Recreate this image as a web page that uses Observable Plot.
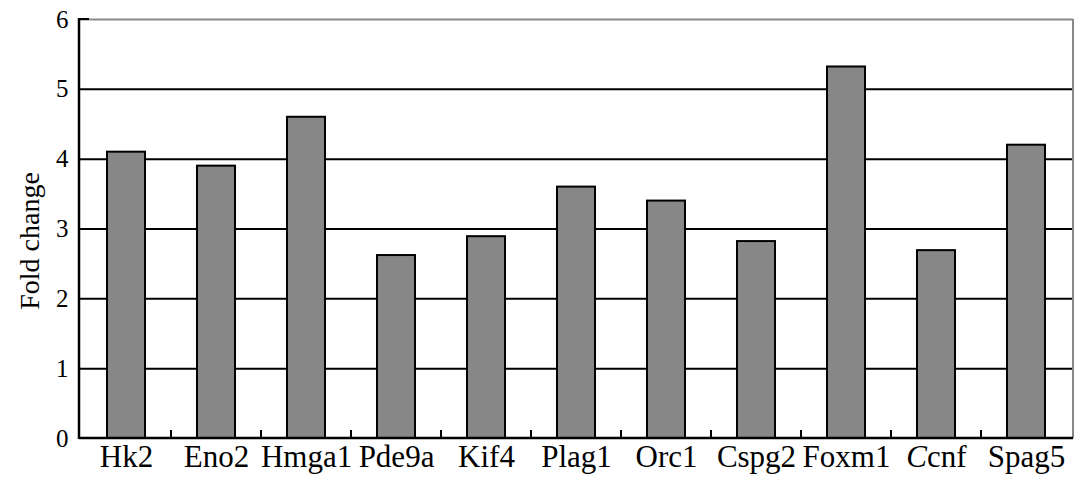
<!DOCTYPE html>
<html><head><meta charset="utf-8">
<script src="https://cdn.jsdelivr.net/npm/d3@7"></script>
<script src="https://cdn.jsdelivr.net/npm/@observablehq/plot@0.6"></script>
<style>
body{margin:0;background:#fff;}
</style></head><body><div id="chart"></div>
<script>
const genes = ["Hk2","Eno2","Hmga1","Pde9a","Kif4","Plag1","Orc1","Cspg2","Foxm1","Ccnf","Spag5"];
const foldChange = [4.10,3.90,4.60,2.62,2.89,3.60,3.40,2.82,5.32,2.69,4.20];
const yTicks = [0,1,2,3,4,5,6];
const gridTicks = [1,2,3,4,5];
const yTitle = "Fold change";
const data = genes.map((g,i)=>({gene:g, value:foldChange[i]}));

const W=1087,H=490, mL=79, mR=14, mT=19, mB=52;
const serif = "Liberation Serif, Times New Roman, serif";
const chart = Plot.plot({
  width:W, height:H, marginLeft:mL, marginRight:mR, marginTop:mT, marginBottom:mB,
  style:{background:"#fff", color:"#000", fontFamily:serif, fontSize:"25px"},
  x:{domain:genes, paddingInner:0.58, paddingOuter:0.29, align:0.5, label:null},
  y:{domain:[0,6], label:null},
  marks:[
    Plot.ruleY(gridTicks,{stroke:"#000", strokeWidth:2}),
    Plot.ruleY([6],{stroke:"#888", strokeWidth:2}),
    Plot.barY(data,{x:"gene", y:"value", fill:"#878787", stroke:"#000", strokeWidth:2}),
    Plot.axisX({tickSize:0, tickPadding:6, label:null, fontSize:31}),
    Plot.axisY({ticks:yTicks, tickFormat:"d", tickSize:0, tickPadding:11, label:null, fontSize:25}),
    Plot.text([yTitle],{frameAnchor:"left", dx:-49, dy:12, rotate:-90, textAnchor:"middle", fontSize:28})
  ]
});
document.getElementById("chart").appendChild(chart);

const svg = d3.select(chart);
svg.attr("font-family", serif);
const yStr = yTicks.map(String);
svg.selectAll("text").each(function(){
  const t=d3.select(this);
  const s=t.text();
  t.attr("font-family", serif);
  if(genes.includes(s)) t.attr("font-size","31");
  else if(yStr.includes(s)) t.attr("font-size","25");
  else if(s===yTitle) t.attr("font-size","28");
  if(s==="Ccnf"){ t.text(""); t.append("tspan").attr("font-style","italic").text("C"); t.append("tspan").text("cnf"); }
});

const xs = chart.scale("x"), ys = chart.scale("y");
const y0 = ys.apply(0), y6 = ys.apply(6);
const x0 = mL, x1 = W - mR;
const g = svg.append("g");
g.append("line").attr("x1",x1).attr("x2",x1).attr("y1",y6).attr("y2",y0).attr("stroke","#888").attr("stroke-width",2);
g.append("line").attr("x1",x0).attr("x2",x0).attr("y1",y6-1).attr("y2",y0+1).attr("stroke","#000").attr("stroke-width",2.5);
g.append("line").attr("x1",x0).attr("x2",x1).attr("y1",y0).attr("y2",y0).attr("stroke","#000").attr("stroke-width",2.5);
g.append("line").attr("x1",x0).attr("x2",x0+10).attr("y1",y6).attr("y2",y6).attr("stroke","#000").attr("stroke-width",2);
const bw = xs.step;
for(let i=1;i<genes.length;i++){
  const xx = xs.apply(genes[i]) - (bw - xs.bandwidth)/2;
  g.append("line").attr("x1",xx).attr("x2",xx).attr("y1",y0).attr("y2",y0-8).attr("stroke","#000").attr("stroke-width",2);
}
</script></body></html>
